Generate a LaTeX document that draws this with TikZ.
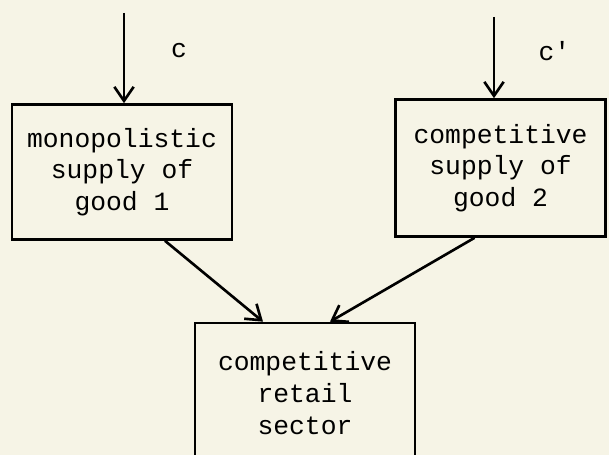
\documentclass[tikz,border=0pt]{standalone}
\usepackage{fontspec}
\setmonofont{Liberation Mono}
\usetikzlibrary{positioning, arrows.meta}
\definecolor{paper}{RGB}{246,244,230}
\tikzset{>={Straight Barb[length=8pt,width=11pt]},
  sector/.style={draw, rectangle, inner sep=0pt, align=center,
    font=\ttfamily\fontsize{15}{18}\selectfont},
  cost/.style={font=\ttfamily\fontsize{15}{18}\selectfont}}

\begin{document}
\begin{tikzpicture}[x=0.02cm, y=-0.02cm, line width=1.5pt]
\fill[paper] (0,0) rectangle (609,455);
\clip (0,0) rectangle (609,455);
\node[sector, minimum width=4.4cm, minimum height=2.7cm] (mono) at (122,172) {monopolistic\\supply of\\good 1};
\node[sector, minimum width=4.2cm, minimum height=2.74cm, right=3.22cm of mono.east, anchor=west, yshift=0.08cm] (comp) {competitive\\supply of\\good 2};
\node[sector, minimum width=4.4cm, minimum height=2.8cm] (retail) at (305,393) {competitive\\retail\\sector};
\coordinate (cin) at (124,13);
\coordinate (cpin) at (494,17);
\draw[->] (cin) -- (cin |- mono.north) node[cost, pos=0.42, right=0.8cm] (clab) {c};
\draw[->] (cpin) -- (cpin |- comp.north) node[cost, pos=0.42, right=0.75cm] (cplab) {c'};
\draw[->] ([xshift=0.86cm]mono.south) -- ([xshift=-0.84cm]retail.north);
\draw[->] ([xshift=-0.52cm]comp.south) -- ([xshift=0.5cm]retail.north);
\end{tikzpicture}
\end{document}
